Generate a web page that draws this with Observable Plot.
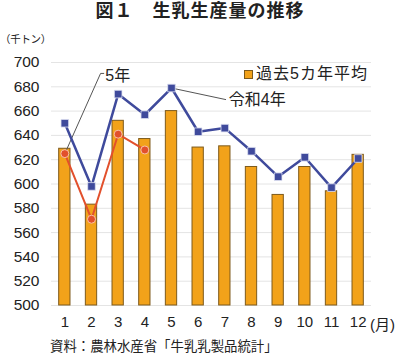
<!DOCTYPE html>
<html><head><meta charset="utf-8">
<script src="https://cdn.jsdelivr.net/npm/d3@7"></script>
<script src="https://cdn.jsdelivr.net/npm/@observablehq/plot@0.6"></script>
<style>
body{margin:0;background:#fff;}
#wrap{position:relative;width:400px;height:360px;font-family:"Liberation Sans","Noto Sans CJK JP",sans-serif;color:#222;}
.t{position:absolute;white-space:nowrap;}
</style></head>
<body><div id="wrap"></div>
<script>
const months = [1,2,3,4,5,6,7,8,9,10,11,12];
const avg5 = [629,583,652,637,660,630,631,614,591,614,594,624];
const reiwa4 = [650,598,674,657,679,643,646,627,606,622,597,621];
const reiwa5 = [625,571,641,628];
const yTicks = [500,520,540,560,580,600,620,640,660,680,700];
const title = "図１　生乳生産量の推移";
const unitLabel = "（千トン）";
const monthUnit = "(月)";
const source = "資料：農林水産省「牛乳乳製品統計」";
const legendLabel = "過去5カ年平均";
// annotation label anchors (data coordinates)
const label5 = {text:"5年", x:2.52, y:689, path:[[1,625],[2.34,691],[2.46,691]]};
const label4 = {text:"令和4年", x:7.15, y:669, path:[[5,679],[7.03,669.5]]};

const barData = months.map((m,i)=>({m, v:avg5[i]}));
const r4Data = months.map((m,i)=>({m, v:reiwa4[i]}));
const r5Data = reiwa5.map((v,i)=>({m:months[i], v}));
const hw = 0.212;

const chart = Plot.plot({
  width:400, height:360,
  marginTop:62, marginBottom:55, marginLeft:51, marginRight:29,
  style:{fontFamily:'"Liberation Sans","Noto Sans CJK JP",sans-serif', fontSize:"15px", color:"#222", background:"transparent", overflow:"visible"},
  x:{domain:[0.5,12.5]},
  y:{domain:[500,700]},
  marks:[
    Plot.ruleY(yTicks,{stroke:"#e4e4e4", strokeWidth:1}),
    Plot.rectY(barData,{x1:d=>d.m-hw, x2:d=>d.m+hw, y1:500, y2:"v", fill:"#F2A21A", stroke:"#7d5a1c", strokeWidth:1}),
    Plot.line(label5.path,{x:d=>d[0], y:d=>d[1], stroke:"#555", strokeWidth:1}),
    Plot.line(label4.path,{x:d=>d[0], y:d=>d[1], stroke:"#555", strokeWidth:1}),
    Plot.line(r4Data,{x:"m", y:"v", stroke:"#3F4A9C", strokeWidth:2.5}),
    Plot.dot(r4Data,{x:"m", y:"v", symbol:"square", r:4.3, fill:"#3F4A9C", stroke:"#dfe2f2", strokeWidth:0.8}),
    Plot.line(r5Data,{x:"m", y:"v", stroke:"#E2502C", strokeWidth:2}),
    Plot.dot(r5Data,{x:"m", y:"v", r:4, fill:"#E2502C", stroke:"#F8C0A8", strokeWidth:1}),
    Plot.text([label5],{x:"x", y:"y", text:"text", textAnchor:"start", fontSize:16, letterSpacing:1, fill:"#222"}),
    Plot.text([label4],{x:"x", y:"y", text:"text", textAnchor:"start", fontSize:16, letterSpacing:1, fill:"#222"}),
    Plot.axisY(yTicks,{tickSize:0, tickPadding:12, fontSize:15.5, label:null}),
    Plot.axisX(months,{tickSize:0, tickPadding:11, fontSize:15, label:null})
  ]
});
const wrap = document.getElementById("wrap");
chart.style.position="absolute"; chart.style.left="0"; chart.style.top="0";
wrap.appendChild(chart);

function addText(txt, css){
  const d=document.createElement("div"); d.className="t"; d.textContent=txt;
  Object.assign(d.style, css); wrap.appendChild(d); return d;
}
addText(title,{left:"0",width:"400px",textAlign:"center",top:"0px",fontSize:"18px",fontWeight:"bold",letterSpacing:"1px",lineHeight:"22px"});
addText(unitLabel,{left:"0px",top:"32px",fontSize:"10.5px",lineHeight:"14px",letterSpacing:"-0.3px"});
addText(monthUnit,{left:"370px",top:"316px",fontSize:"15px",lineHeight:"18px"});
addText(source,{left:"50px",top:"338px",fontSize:"13.4px",lineHeight:"18px"});
const lg = document.createElement("div"); lg.className="t";
Object.assign(lg.style,{left:"244px",top:"64px",fontSize:"16px",lineHeight:"20px",letterSpacing:"1px",display:"flex",alignItems:"center"});
const sq = document.createElement("span");
Object.assign(sq.style,{display:"inline-block",width:"7px",height:"7px",background:"#F2A21A",border:"1px solid #7d5a1c",marginRight:"3px"});
lg.appendChild(sq); lg.appendChild(document.createTextNode(legendLabel));
wrap.appendChild(lg);
</script>
</body></html>
